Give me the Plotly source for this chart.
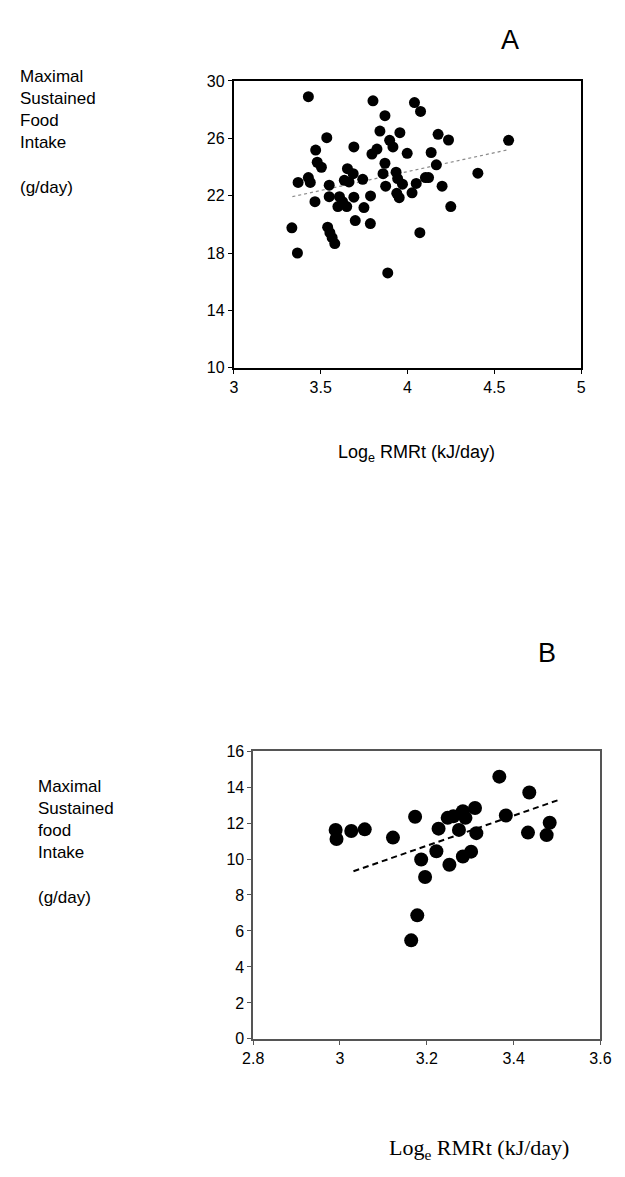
import plotly.graph_objects as go

# Panel A: maximal sustained food intake vs log RMRt
a_rmr = [3.429, 3.801, 4.04, 4.075, 3.870, 3.841, 3.956, 4.176, 4.236, 3.535,
         3.897, 3.916, 3.691, 3.824, 3.795, 3.471, 3.998, 4.136, 4.582, 3.480,
         3.504, 3.870, 4.166, 3.654, 3.687, 3.859, 3.934, 3.943, 4.405, 3.370,
         3.429, 3.440, 3.636, 3.663, 3.742, 3.549, 3.971, 3.874, 4.05, 4.103,
         4.121, 4.199, 3.467, 3.549, 3.608, 3.626, 3.691, 3.787, 3.938, 3.952,
         4.026, 3.599, 3.650, 3.749, 4.249, 3.699, 3.786, 3.334, 3.540, 3.553,
         3.566, 3.581, 3.366, 3.886, 4.071]
a_intake = [28.90, 28.61, 28.49, 27.87, 27.58, 26.50, 26.39, 26.28, 25.88, 26.04,
            25.86, 25.40, 25.40, 25.25, 24.90, 25.18, 24.95, 25.01, 25.86, 24.33,
            23.98, 24.26, 24.15, 23.88, 23.53, 23.53, 23.64, 23.19, 23.57, 22.92,
            23.26, 22.92, 23.07, 22.96, 23.14, 22.73, 22.80, 22.66, 22.85, 23.26,
            23.26, 22.66, 21.58, 21.93, 21.93, 21.58, 21.89, 21.98, 22.16, 21.86,
            22.20, 21.24, 21.24, 21.17, 21.24, 20.26, 20.05, 19.76, 19.80, 19.42,
            19.07, 18.66, 18.00, 16.61, 19.42]
a_fit_x = [3.337, 4.579]
a_fit_y = [21.93, 25.20]
a_xticks = [3, 3.5, 4, 4.5, 5]
a_yticks = [10, 14, 18, 22, 26, 30]

# Panel B
b_rmr = [2.990, 2.992, 3.026, 3.057, 3.122, 3.173, 3.367, 3.436, 3.227, 3.248,
         3.261, 3.283, 3.289, 3.311, 3.274, 3.314, 3.382, 3.483, 3.433, 3.476,
         3.222, 3.302, 3.283, 3.187, 3.252, 3.196, 3.178, 3.164]
b_intake = [11.62, 11.11, 11.56, 11.65, 11.19, 12.35, 14.58, 13.70, 11.69, 12.29,
            12.38, 12.66, 12.29, 12.84, 11.62, 11.44, 12.42, 12.02, 11.47, 11.33,
            10.43, 10.41, 10.14, 9.97, 9.68, 9.00, 6.87, 5.48]
b_fit_x = [3.031, 3.509]
b_fit_y = [9.32, 13.33]
b_xticks = [2.8, 3.0, 3.2, 3.4, 3.6]
b_xlabels = ["2.8", "3", "3.2", "3.4", "3.6"]
b_yticks = [0, 2, 4, 6, 8, 10, 12, 14, 16]

W, H = 625, 1177


def xdom(left, right):
    return [left / W, right / W]


def ydom(top, bottom):
    return [1 - bottom / H, 1 - top / H]


SANS = "Liberation Sans, Arial, sans-serif"
SERIF = "Liberation Serif, Times New Roman, serif"

fig = go.Figure()

fig.add_trace(go.Scatter(x=a_fit_x, y=a_fit_y, mode="lines", xaxis="x", yaxis="y",
                         line=dict(color="#8a8a8a", width=1.2, dash="dot"),
                         showlegend=False, hoverinfo="skip"))
fig.add_trace(go.Scatter(x=a_rmr, y=a_intake, mode="markers", xaxis="x", yaxis="y",
                         marker=dict(color="black", size=11, line=dict(width=0)),
                         showlegend=False))

fig.add_trace(go.Scatter(x=b_fit_x, y=b_fit_y, mode="lines", xaxis="x2", yaxis="y2",
                         line=dict(color="black", width=2, dash="6px,4px"),
                         showlegend=False, hoverinfo="skip"))
fig.add_trace(go.Scatter(x=b_rmr, y=b_intake, mode="markers", xaxis="x2", yaxis="y2",
                         marker=dict(color="black", size=14, line=dict(width=0)),
                         showlegend=False))

tickfont = dict(family=SANS, size=16, color="black")

fig.update_layout(
    width=W, height=H,
    margin=dict(l=0, r=0, t=0, b=0),
    paper_bgcolor="white", plot_bgcolor="white",
    font=dict(family=SANS, color="black"),
    xaxis=dict(domain=xdom(231, 591), range=[3, 5], anchor="y",
               tickvals=a_xticks, ticktext=[str(v) for v in a_xticks],
               ticks="outside", ticklen=4, tickwidth=1, tickcolor="black",
               showline=True, linecolor="black", linewidth=2, mirror=True,
               showgrid=False, zeroline=False, tickfont=tickfont, fixedrange=True),
    yaxis=dict(domain=ydom(74, 365), range=[10, 30], anchor="x",
               tickvals=a_yticks, ticks="outside", ticklen=4, tickwidth=1,
               tickcolor="black", showline=True, linecolor="black", linewidth=2,
               mirror=True, showgrid=False, zeroline=False, tickfont=tickfont,
               fixedrange=True),
    xaxis2=dict(domain=xdom(251, 611), range=[2.8, 3.6], anchor="y2",
                tickvals=b_xticks, ticktext=b_xlabels,
                ticks="outside", ticklen=4, tickwidth=1, tickcolor="#555",
                showline=True, linecolor="#555", linewidth=1.5, mirror=True,
                showgrid=False, zeroline=False, tickfont=tickfont, fixedrange=True),
    yaxis2=dict(domain=ydom(754, 1046), range=[0, 16], anchor="x2",
                tickvals=b_yticks, ticks="outside", ticklen=4, tickwidth=1,
                tickcolor="#555", showline=True, linecolor="#555", linewidth=1.5,
                mirror=True, showgrid=False, zeroline=False, tickfont=tickfont,
                fixedrange=True),
)

label_font = dict(family=SANS, size=17, color="black")


def note(text, x, y, font, xanchor="left", yanchor="top", align="left"):
    fig.add_annotation(text=text, x=x / W, y=1 - y / H, xref="paper", yref="paper",
                       showarrow=False, xanchor=xanchor, yanchor=yanchor,
                       align=align, font=font)


note("A", 517, 32, dict(family=SANS, size=27, color="black"), xanchor="center",
     yanchor="middle")
note("B", 556, 654, dict(family=SANS, size=27, color="black"), xanchor="center",
     yanchor="middle")

note("Maximal<br>Sustained<br>Food<br>Intake<br><br>(g/day)", 7, 58, label_font)
note("Maximal<br>Sustained<br>food<br>Intake<br><br>(g/day)", 26, 778, label_font)

note("Log<sub>e</sub> RMRt (kJ/day)", 420, 452,
     dict(family=SANS, size=18, color="black"), xanchor="center", yanchor="middle")
note("Log<sub>e</sub> RMRt (kJ/day)", 485, 1158,
     dict(family=SERIF, size=22, color="black"), xanchor="center", yanchor="middle")

fig.write_html("out.html")
